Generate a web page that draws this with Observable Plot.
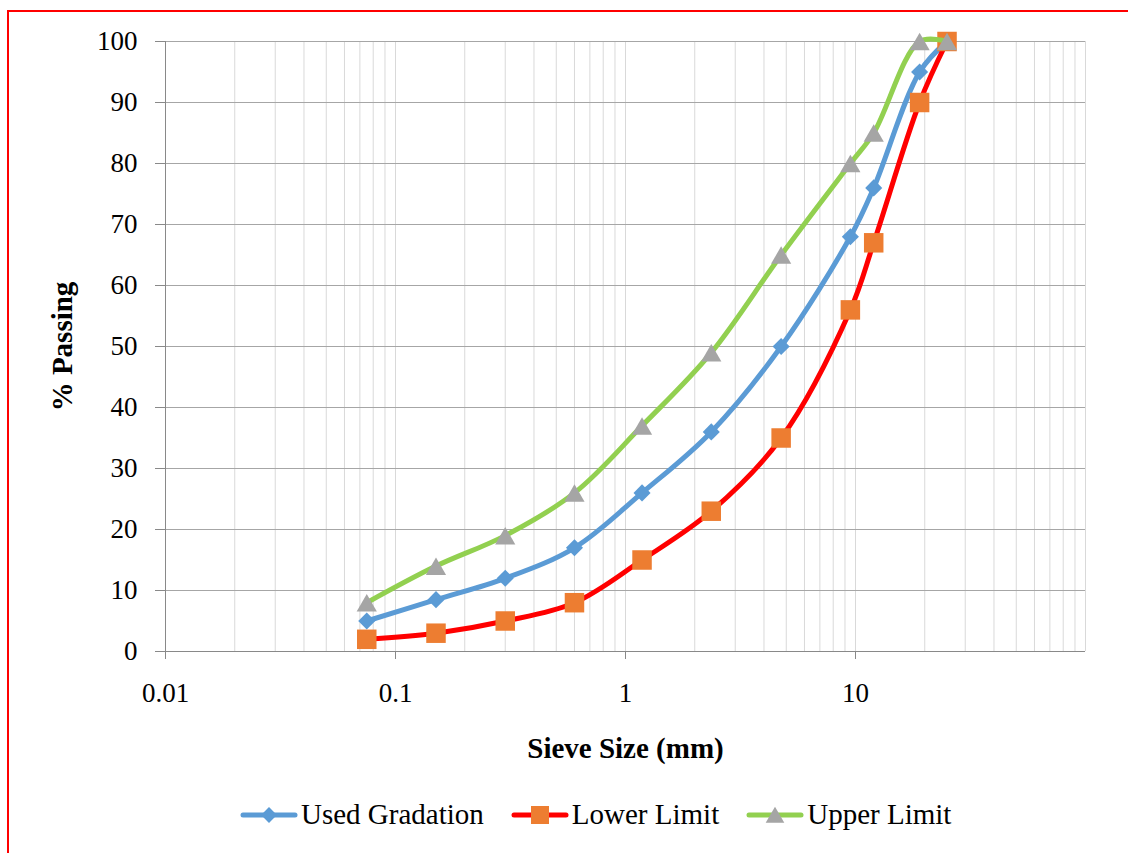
<!DOCTYPE html>
<html>
<head>
<meta charset="utf-8">
<script src="https://cdn.jsdelivr.net/npm/d3@7"></script>
<script src="https://cdn.jsdelivr.net/npm/@observablehq/plot@0.6"></script>
<style>
  html, body { margin: 0; padding: 0; background: #fff; }
  body { width: 1128px; height: 853px; position: relative; overflow: hidden; font-family: 'Liberation Serif', serif; }
  #frame { position: absolute; left: 7px; top: 10px; width: 1300px; height: 1000px; border-top: 2px solid #ff0000; border-left: 2px solid #ff0000; }
  #chart { position: absolute; left: 0; top: 0; }
  #legend { position: absolute; left: 240px; top: 798px; display: flex; align-items: center; font-family: 'Liberation Serif', serif; font-size: 29px; color: #000; white-space: nowrap; }
  .item { display: flex; align-items: center; margin-right: 27px; }
  .item svg { margin-right: 3px; }
  #chart svg, #chart svg text { font-family: 'Liberation Serif', serif !important; }
</style>
</head>
<body>
<div id="frame"></div>
<div id="chart"></div>
<div id="legend"></div>
<script>
// ---- data ----
const sieveSizes = [0.075, 0.15, 0.3, 0.6, 1.18, 2.36, 4.75, 9.5, 12, 19, 25];
const usedGradation = [5, 8.5, 12, 17, 26, 36, 50, 68, 76, 95, 100];
const lowerLimit = [2, 3, 5, 8, 15, 23, 35, 56, 67, 90, 100];
const upperLimit = [8, 14, 19, 26, 37, 49, 65, 80, 85, 100, 100];
const seriesNames = ["Used Gradation", "Lower Limit", "Upper Limit"];
const xTickValues = [0.01, 0.1, 1, 10];
const yTickValues = [0, 10, 20, 30, 40, 50, 60, 70, 80, 90, 100];
const xLabel = "Sieve Size (mm)";
const yLabel = "% Passing";

// ---- styles ----
const lineColors = ["#5b9bd5", "#ff0000", "#92d050"];
const markerColors = ["#5b9bd5", "#ed7d31", "#a5a5a5"];
const markerSymbols = ["diamond2", "square", "triangle"];
const markerR = [7.7, 11.0, 7.5];
const markerDy = [0, 0, 3];

const seriesValues = [usedGradation, lowerLimit, upperLimit];
const rows = seriesNames.map((name, i) => sieveSizes.map((s, j) => ({series: name, size: s, pct: seriesValues[i][j]})));

// minor grid (1..9 per decade)
const gridX = [];
for (let e = -2; e <= 1; e++) for (let k = 1; k <= 9; k++) gridX.push(k * Math.pow(10, e));
gridX.push(100);

const marks = [
  Plot.ruleX(gridX, {stroke: "#d9d9d9", strokeWidth: 1}),
  Plot.ruleY(yTickValues, {stroke: "#a6a6a6", strokeWidth: 1}),
  Plot.ruleX([0.01], {stroke: "#898989", strokeWidth: 1}),
  Plot.ruleY([0], {stroke: "#898989", strokeWidth: 1}),
  Plot.axisY({ticks: yTickValues, tickSize: 10, tickPadding: 18, fontSize: 27, stroke: "#898989", fill: "#000", label: null}),
  Plot.axisX({ticks: xTickValues, tickFormat: d => String(d), tickSize: 8, tickPadding: 23, fontSize: 27, stroke: "#898989", fill: "#000", label: null}),
  Plot.text([yLabel], {frameAnchor: "left", dx: -103, rotate: -90, textAnchor: "middle", lineAnchor: "middle", fontSize: 29, fontWeight: "bold", fill: "#000"}),
  Plot.text([xLabel], {frameAnchor: "bottom", dy: 97, textAnchor: "middle", lineAnchor: "middle", fontSize: 29, fontWeight: "bold", fill: "#000"})
];
rows.forEach((data, i) => {
  marks.push(Plot.line(data, {x: "size", y: "pct", stroke: lineColors[i], strokeWidth: 5, curve: "catmull-rom", strokeLinecap: "round", strokeLinejoin: "round"}));
  marks.push(Plot.dot(data, {x: "size", y: "pct", symbol: () => markerSymbols[i], r: markerR[i], fill: markerColors[i], stroke: "none", dy: markerDy[i]}));
});

const chart = Plot.plot({
  width: 1128,
  height: 780,
  marginLeft: 165,
  marginRight: 43,
  marginTop: 41,
  marginBottom: 129,
  style: "font-family: 'Liberation Serif', serif; background: transparent; overflow: visible;",
  x: {type: "log", domain: [0.01, 100]},
  y: {domain: [0, 100]},
  symbol: {type: "identity"},
  marks
});
chart.setAttribute("font-family", "Liberation Serif");
document.getElementById("chart").appendChild(chart);

// ---- legend ----
const legend = document.getElementById("legend");
const symbolTypes = {diamond2: d3.symbolDiamond2, square: d3.symbolSquare, triangle: d3.symbolTriangle};
seriesNames.forEach((name, i) => {
  const item = document.createElement("div");
  item.className = "item";
  const w = 58, h = 24;
  const sym = d3.symbol(symbolTypes[markerSymbols[i]], Math.PI * markerR[i] * markerR[i] * 0.85)();
  item.innerHTML = `<svg width="${w}" height="${h}"><line x1="3" x2="${w - 3}" y1="${h / 2}" y2="${h / 2}" stroke="${lineColors[i]}" stroke-width="5" stroke-linecap="round"/><path d="${sym}" transform="translate(${w / 2},${h / 2 + markerDy[i] * 0.8})" fill="${markerColors[i]}"/></svg><span>${name}</span>`;
  legend.appendChild(item);
});
</script>
</body>
</html>
